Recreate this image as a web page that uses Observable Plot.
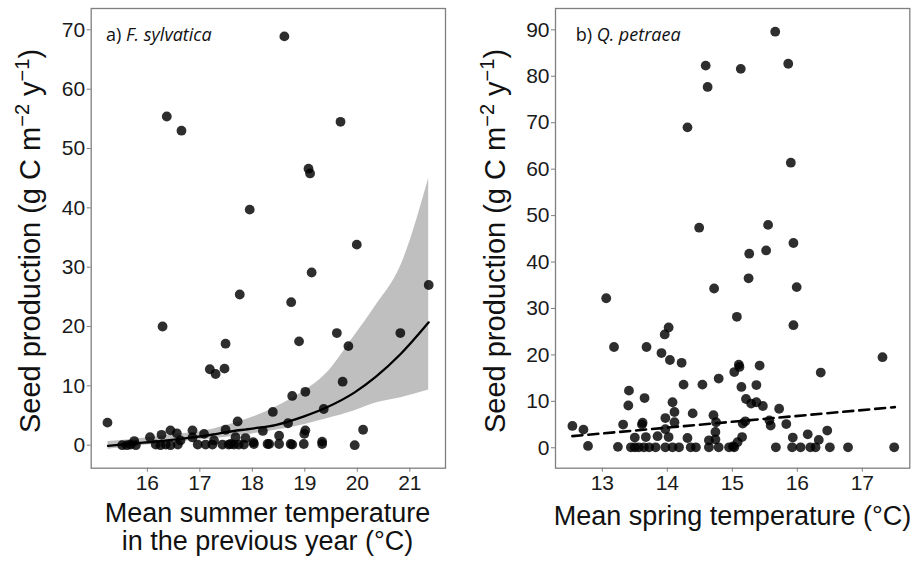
<!DOCTYPE html>
<html><head><meta charset="utf-8">
<script src="https://cdn.jsdelivr.net/npm/d3@7"></script>
<script src="https://cdn.jsdelivr.net/npm/@observablehq/plot@0.6"></script>
<style>
body{margin:0;background:#fff;}
#wrap{position:relative;width:915px;height:563px;overflow:hidden;background:#fff;}
#wrap svg{position:absolute;top:0;}
</style></head><body><div id="wrap"></div>
<script>
// ---- Panel a: F. sylvatica ----
const aTemp = [15.24,15.52,15.61,15.68,15.75,15.78,16.05,16.16,16.25,16.27,16.29,16.35,16.37,16.44,16.44,16.56,16.58,16.63,16.65,16.86,16.86,16.96,17.08,17.11,17.19,17.24,17.27,17.30,17.43,17.47,17.49,17.49,17.55,17.59,17.65,17.68,17.72,17.74,17.76,17.84,17.87,17.95,18.02,18.03,18.20,18.29,18.32,18.39,18.51,18.51,18.61,18.68,18.73,18.74,18.76,18.76,18.89,18.98,18.99,19.01,19.01,19.07,19.10,19.13,19.33,19.33,19.36,19.61,19.68,19.72,19.83,19.95,19.99,20.11,20.82,21.36];
const aSeed = [3.8,0.0,0.0,0.1,0.7,0.0,1.35,0.1,0.0,1.75,20.0,0.1,55.4,2.5,0.0,2.0,0.1,0.8,53.0,2.5,1.3,0.1,1.9,0.1,12.8,0.1,0.8,12.0,0.1,12.9,17.1,2.6,0.1,0.2,0.1,1.35,4.0,0.1,25.4,0.1,1.2,39.7,0.5,0.2,2.4,0.2,0.2,5.6,1.6,0.2,68.9,3.7,0.2,24.1,8.3,0.1,17.5,0.2,1.9,2.5,9.0,46.6,45.8,29.1,0.2,0.6,6.1,18.9,54.5,10.7,16.7,0.0,33.8,2.6,18.9,27.0];
const aFitTemp = [15.25,15.75,16.25,16.75,17.25,17.5,18.0,18.44,19.0,19.4,19.95,20.35,20.83,21.36];
const aFit     = [-0.1,0.3,0.7,1.2,1.8,2.2,2.8,3.4,4.9,6.3,8.9,11.5,15.4,20.7];
const aLow     = [-0.7,-0.2,0.3,0.7,1.1,1.35,1.9,2.5,3.5,4.4,5.8,7.1,8.0,9.3];
const aHigh    = [0.6,1.0,1.5,2.0,2.7,3.3,4.7,6.4,9.2,12.0,18.5,23.5,30.3,45.0];
const aXTicks = [16,17,18,19,20,21];
const aYTicks = [0,10,20,30,40,50,60,70];

// ---- Panel b: Q. petraea ----
const bTemp = [12.54,12.71,12.78,13.06,13.18,13.24,13.32,13.40,13.41,13.44,13.50,13.50,13.56,13.61,13.62,13.64,13.65,13.67,13.68,13.72,13.82,13.85,13.91,13.96,13.97,13.97,13.97,14.02,14.02,14.04,14.08,14.08,14.11,14.11,14.18,14.22,14.25,14.31,14.31,14.36,14.39,14.44,14.49,14.54,14.59,14.62,14.64,14.64,14.71,14.72,14.74,14.74,14.75,14.79,14.79,14.95,15.01,15.03,15.03,15.07,15.08,15.10,15.11,15.13,15.14,15.15,15.16,15.20,15.21,15.25,15.26,15.29,15.37,15.37,15.42,15.47,15.52,15.55,15.57,15.59,15.66,15.67,15.72,15.83,15.86,15.90,15.92,15.93,15.94,15.94,15.99,16.05,16.16,16.20,16.28,16.33,16.36,16.46,16.50,16.78,17.31,17.49];
const bSeed = [4.7,3.9,0.4,32.2,21.7,0.2,5.0,9.1,12.3,0.1,2.2,0.1,0.1,5.0,5.4,0.1,10.7,2.3,21.7,0.1,0.1,2.5,20.4,24.4,6.4,4.0,0.1,25.9,2.3,18.9,9.8,0.1,7.7,5.5,0.1,18.3,13.6,69.0,2.1,0.1,7.4,0.1,47.4,13.6,82.3,77.7,1.6,0.1,7.0,34.3,3.4,1.8,5.5,14.9,0.1,0.1,0.3,16.3,0.1,28.2,1.2,17.9,17.4,81.6,13.1,2.3,5.2,5.7,10.5,36.5,41.8,9.5,9.8,13.5,17.7,9.0,42.5,48.0,5.9,4.8,89.6,0.1,8.4,5.1,82.7,61.4,0.1,2.2,44.1,26.4,34.6,0.1,2.9,0.1,0.1,1.7,16.2,3.7,0.1,0.1,19.5,0.1];
const bLineTemp = [12.54,17.5];
const bLine     = [2.5,8.75];
const bXTicks = [13,14,15,16,17];
const bYTicks = [0,10,20,30,40,50,60,70,80,90];

const FONT = "'Liberation Sans', Arial, Helvetica, sans-serif";
const LABEL_FONT = "'Open Sans', Lato, sans-serif";
const yTitleParts = ["Seed production (g C m", "\u22122", " y", "\u22121", ")"];

function axes(xTicks, yTicks) {
  return [
    Plot.frame({stroke: "#7f7f7f", strokeWidth: 1.3}),
    Plot.axisX({ticks: xTicks, tickFormat: d => String(d), tickSize: 4, tickPadding: 3, fontSize: 21, stroke: "#7f7f7f", fill: "#1a1a1a", label: null}),
    Plot.axisY({ticks: yTicks, tickFormat: d => String(d), tickSize: 4, tickPadding: 2, fontSize: 21, stroke: "#7f7f7f", fill: "#1a1a1a", label: null})
  ];
}

function addTitles(svg, o) {
  const s = d3.select(svg);
  const yt = s.append("text")
    .attr("transform", `translate(${o.yTitleX},${o.yTitleY}) rotate(-90)`)
    .attr("text-anchor", "middle")
    .attr("font-family", FONT).attr("font-size", 29).attr("fill", "#111");
  yTitleParts.forEach((p, i) => {
    const t = yt.append("tspan").text(p);
    if (i === 1 || i === 3) t.attr("font-size", 20).attr("dy", "-0.55em");
    if (i === 2 || i === 4) t.attr("dy", "0.38em");
  });
  o.xTitle.forEach((line, i) => {
    s.append("text").attr("x", o.xTitleX).attr("y", o.xTitleY + i * 28)
      .attr("text-anchor", "middle").attr("font-family", FONT).attr("font-size", 27)
      .attr("fill", "#111").text(line);
  });
  const pl = s.append("text").attr("x", o.labX).attr("y", 41)
    .attr("text-anchor", "start")
    .attr("font-family", LABEL_FONT).attr("font-size", 18).attr("fill", "#111");
  pl.append("tspan").text(o.lab[0]);
  pl.append("tspan").attr("font-style", "italic").text(o.lab[1]);
}

const wrap = document.getElementById("wrap");

// Panel a
const aPts = aTemp.map((t, i) => ({t, s: aSeed[i]}));
const aFitRows = aFitTemp.map((t, i) => ({t, f: aFit[i], lo: aLow[i], hi: aHigh[i]}));
const svgA = Plot.plot({
  width: 455, height: 563,
  marginLeft: 90.7, marginRight: 10, marginTop: 8, marginBottom: 95.3,
  x: {domain: [14.93, 21.68]},
  y: {domain: [-3.88, 73.6]},
  style: {fontFamily: FONT, background: "white", color: "#1a1a1a", overflow: "visible"},
  marks: [
    Plot.areaY(aFitRows, {x: "t", y1: "lo", y2: "hi", fill: "#bfbfbf", curve: "monotone-x"}),
    Plot.dot(aPts, {x: "t", y: "s", r: 4.9, fill: "black", fillOpacity: 0.82}),
    Plot.line(aFitRows, {x: "t", y: "f", stroke: "black", strokeWidth: 2.3, curve: "monotone-x"}),
    ...axes(aXTicks, aYTicks)
  ]
});
svgA.style.left = "0px";
wrap.appendChild(svgA);
addTitles(svgA, {yTitleX: 40, yTitleY: 241, xTitle: ["Mean summer temperature", "in the previous year (\u00B0C)"], xTitleX: 267.5, xTitleY: 522, labX: 106, lab: ["a) ", "F. sylvatica"]});

// Panel b
const bPts = bTemp.map((t, i) => ({t, s: bSeed[i]}));
const bLineRows = bLineTemp.map((t, i) => ({t, f: bLine[i]}));
const svgB = Plot.plot({
  width: 460, height: 563,
  marginLeft: 100, marginRight: 5.7, marginTop: 8, marginBottom: 95.3,
  x: {domain: [12.28, 17.73]},
  y: {domain: [-4.4, 94.6]},
  style: {fontFamily: FONT, background: "white", color: "#1a1a1a", overflow: "visible"},
  marks: [
    Plot.dot(bPts, {x: "t", y: "s", r: 4.9, fill: "black", fillOpacity: 0.82}),
    Plot.line(bLineRows, {x: "t", y: "f", stroke: "black", strokeWidth: 2.6, strokeDasharray: "10,6"}),
    ...axes(bXTicks, bYTicks)
  ]
});
svgB.style.left = "455px";
wrap.appendChild(svgB);
addTitles(svgB, {yTitleX: 50, yTitleY: 241, xTitle: ["Mean spring temperature (\u00B0C)"], xTitleX: 277.5, xTitleY: 524.5, labX: 120.7, lab: ["b) ", "Q. petraea"]});
</script>
</body></html>
